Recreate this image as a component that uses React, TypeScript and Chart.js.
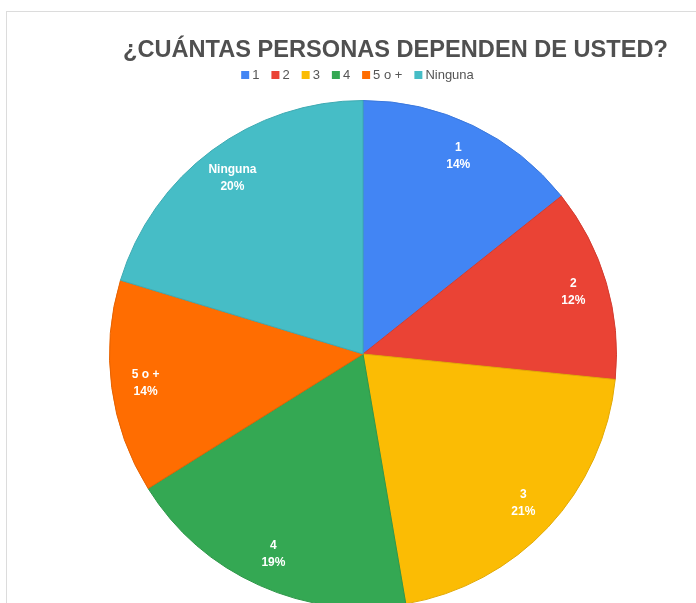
import React, { useEffect, useRef } from "react";
import { Chart, registerables } from "chart.js";

Chart.register(...registerables);

const TITLE = "¿CUÁNTAS PERSONAS DEPENDEN DE USTED?";
const categories = ["1", "2", "3", "4", "5 o +", "Ninguna"];
const values = [14.3, 12.3, 20.7, 18.8, 13.6, 20.3];
const colors = ["#4285F4", "#EA4335", "#FBBC04", "#34A853", "#FF6D01", "#46BDC6"];
const borderColors = ["#3b78dc", "#d33c30", "#e2a904", "#2f974a", "#e56201", "#3faab2"];

const FONT = "'Liberation Sans', Arial, sans-serif";

const overlayPlugin = {
  id: "overlay",
  afterDatasetsDraw(chart: any) {
    const ctx = chart.ctx;
    const meta = chart.getDatasetMeta(0);
    const total = values.reduce((a, b) => a + b, 0);
    ctx.save();
    ctx.fillStyle = "#ffffff";
    ctx.font = `bold 12px ${FONT}`;
    ctx.textAlign = "center";
    ctx.textBaseline = "middle";
    meta.data.forEach((arc: any, i: number) => {
      const p = arc.getProps(["x", "y", "startAngle", "endAngle", "outerRadius"], true);
      const mid = (p.startAngle + p.endAngle) / 2;
      const r = p.outerRadius * 0.865;
      const x = p.x + Math.cos(mid) * r;
      const y = p.y + Math.sin(mid) * r;
      const pct = Math.round((values[i] / total) * 100) + "%";
      ctx.fillText(categories[i], x, y - 8.5);
      ctx.fillText(pct, x, y + 8.5);
    });
    ctx.restore();
  },
  afterDraw(chart: any) {
    const ctx = chart.ctx;
    ctx.save();
    // title
    ctx.fillStyle = "#505050";
    ctx.font = `bold 23.6px ${FONT}`;
    ctx.textAlign = "center";
    ctx.textBaseline = "alphabetic";
    ctx.fillText(TITLE, 395.5, 57);
    // legend
    ctx.font = `13px ${FONT}`;
    ctx.textAlign = "left";
    const box = 8;
    const gapBoxText = 3;
    const gapItem = 12;
    const widths = categories.map((c) => box + gapBoxText + ctx.measureText(c).width);
    const totalW = widths.reduce((a, b) => a + b, 0) + gapItem * (categories.length - 1);
    let x = 357.5 - totalW / 2;
    const cy = 75;
    categories.forEach((c, i) => {
      ctx.fillStyle = colors[i];
      ctx.fillRect(x, cy - box / 2, box, box);
      ctx.fillStyle = "#555555";
      ctx.textBaseline = "middle";
      ctx.fillText(c, x + box + gapBoxText, cy + 0.5);
      x += widths[i] + gapItem;
    });
    ctx.restore();
  },
};

export default function App() {
  const ref = useRef<HTMLCanvasElement | null>(null);

  useEffect(() => {
    if (!ref.current) return;
    const chart = new Chart(ref.current, {
      type: "pie",
      data: {
        labels: categories,
        datasets: [
          {
            data: values,
            backgroundColor: colors,
            borderColor: borderColors,
            borderWidth: 1,
          },
        ],
      },
      options: {
        animation: false,
        responsive: false,
        devicePixelRatio: 1,
        layout: { padding: { top: 100, left: 109, right: 79, bottom: 12 } },
        plugins: {
          legend: { display: false },
          title: { display: false },
          tooltip: { enabled: false },
        },
      },
      plugins: [overlayPlugin],
    });
    return () => chart.destroy();
  }, []);

  return (
    <div
      style={{
        position: "fixed",
        left: 0,
        top: 0,
        width: 696,
        height: 603,
        overflow: "hidden",
        background: "#ffffff",
      }}
    >
      <div
        style={{
          position: "absolute",
          left: 6,
          top: 11,
          width: 800,
          height: 700,
          border: "1px solid #dcdcdc",
        }}
      />
      <canvas
        ref={ref}
        width={696}
        height={620}
        style={{ position: "absolute", left: 0, top: 0, width: 696, height: 620 }}
      />
    </div>
  );
}
